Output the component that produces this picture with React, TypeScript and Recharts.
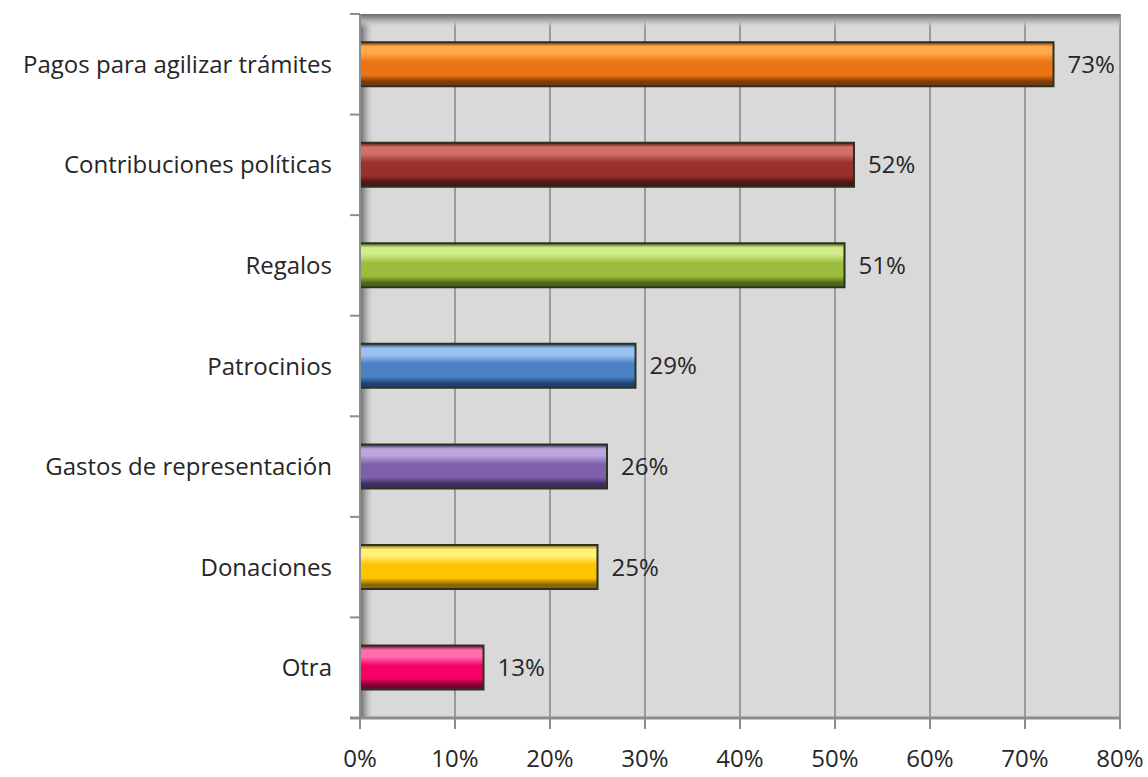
import React from "react";
import {
  Bar,
  BarChart,
  CartesianGrid,
  Cell,
  LabelList,
  ReferenceArea,
  XAxis,
  YAxis,
} from "recharts";

const CATEGORIES = [
  "Pagos para agilizar trámites",
  "Contribuciones  políticas",
  "Regalos",
  "Patrocinios",
  "Gastos de representación",
  "Donaciones",
  "Otra",
];
const VALUES = [73, 52, 51, 29, 26, 25, 13];
const X_TICKS = [0, 10, 20, 30, 40, 50, 60, 70, 80];

// base / light / dark for the bevelled look
const BAR_COLORS = [
  ["#ec7414", "#ffa94a", "#7a3a06"],
  ["#9a302c", "#d4706a", "#4e1513"],
  ["#9cbc3c", "#d3ec8c", "#4f6416"],
  ["#4a80c4", "#9cc3f0", "#1f4170"],
  ["#7e60aa", "#bca5dc", "#3f2b5e"],
  ["#ffc400", "#fff07a", "#8a6500"],
  ["#f70067", "#ff6fae", "#7a0032"],
];

const data = CATEGORIES.map((name, i) => ({ name, value: VALUES[i] }));

const FONT = "'Open Sans', sans-serif";
const AXIS_GRAY = "#8c8c8c";

// category label plus a small tick mark on each band boundary
function CategoryTick(props: any) {
  const { x, y, payload, index, visibleTicksCount } = props;
  const half = payload?.offset ?? 0;
  const axisX = x + 28;
  return (
    <g>
      <line x1={axisX - 10} x2={axisX} y1={y - half} y2={y - half} stroke={AXIS_GRAY} strokeWidth={2} />
      {index === visibleTicksCount - 1 && (
        <line x1={axisX - 10} x2={axisX} y1={y + half} y2={y + half} stroke={AXIS_GRAY} strokeWidth={3} />
      )}
      <text x={x} y={y} dy="0.355em" textAnchor="end" fill="#262626" fontSize={24} fontFamily={FONT}>
        {payload.value}
      </text>
    </g>
  );
}

export default function App() {
  return (
    <div style={{ position: "absolute", left: 0, top: 0, background: "#fff" }}>
      <BarChart
        width={1148}
        height={777}
        data={data}
        layout="vertical"
        margin={{ top: 14, right: 28, bottom: 0, left: 0 }}
        barCategoryGap="28%"
      >
        <defs>
          {BAR_COLORS.map((c, i) => (
            <linearGradient key={i} id={`bar${i}`} x1="0" y1="0" x2="0" y2="1">
              <stop offset="0%" stopColor={c[2]} />
              <stop offset="10%" stopColor={c[1]} />
              <stop offset="25%" stopColor={c[1]} />
              <stop offset="45%" stopColor={c[0]} />
              <stop offset="75%" stopColor={c[0]} />
              <stop offset="90%" stopColor={c[2]} />
              <stop offset="100%" stopColor={c[2]} />
            </linearGradient>
          ))}
          <linearGradient id="shadeLeft" x1="0" y1="0" x2="1" y2="0">
            <stop offset="0%" stopColor="#6a6a6a" />
            <stop offset="45%" stopColor="#b0b0b0" />
            <stop offset="100%" stopColor="#d9d9d9" stopOpacity={0} />
          </linearGradient>
          <linearGradient id="shadeTop" x1="0" y1="0" x2="0" y2="1">
            <stop offset="0%" stopColor="#6a6a6a" />
            <stop offset="7%" stopColor="#b5b5b5" />
            <stop offset="14%" stopColor="#d9d9d9" stopOpacity={0} />
            <stop offset="100%" stopColor="#d9d9d9" stopOpacity={0} />
          </linearGradient>
        </defs>
        <CartesianGrid
          horizontal={false}
          fill="#d9d9d9"
          stroke="#9a9a9a"
          strokeWidth={2}
        />
        <ReferenceArea
          x1={0}
          x2={1.5}
          y1={CATEGORIES[0]}
          y2={CATEGORIES[CATEGORIES.length - 1]}
          fill="url(#shadeLeft)"
          fillOpacity={1}
          stroke="none"
        />
        <ReferenceArea
          x1={0}
          x2={80}
          y1={CATEGORIES[0]}
          y2={CATEGORIES[0]}
          fill="url(#shadeTop)"
          fillOpacity={1}
          stroke="none"
        />
        <YAxis
          type="category"
          dataKey="name"
          width={360}
          tickLine={false}
          axisLine={{ stroke: AXIS_GRAY, strokeWidth: 2 }}
          tickSize={0}
          tickMargin={28}
          tick={<CategoryTick />}
        />
        <XAxis
          type="number"
          domain={[0, 80]}
          ticks={X_TICKS}
          tickFormatter={(v) => `${v}%`}
          height={59}
          tickSize={11}
          tickMargin={21}
          tickLine={{ stroke: AXIS_GRAY, strokeWidth: 2 }}
          axisLine={{ stroke: AXIS_GRAY, strokeWidth: 3 }}
          tick={{ fill: "#262626", fontSize: 24, fontFamily: FONT }}
        />
        <Bar
          dataKey="value"
          isAnimationActive={false}
          stroke="#2a3320"
          strokeWidth={2}
        >
          {data.map((_, i) => (
            <Cell key={i} fill={`url(#bar${i})`} />
          ))}
          <LabelList
            dataKey="value"
            position="right"
            offset={14}
            formatter={(v: number) => `${v}%`}
            style={{ fill: "#262626", fontSize: 24, fontFamily: FONT }}
          />
        </Bar>
      </BarChart>
    </div>
  );
}
